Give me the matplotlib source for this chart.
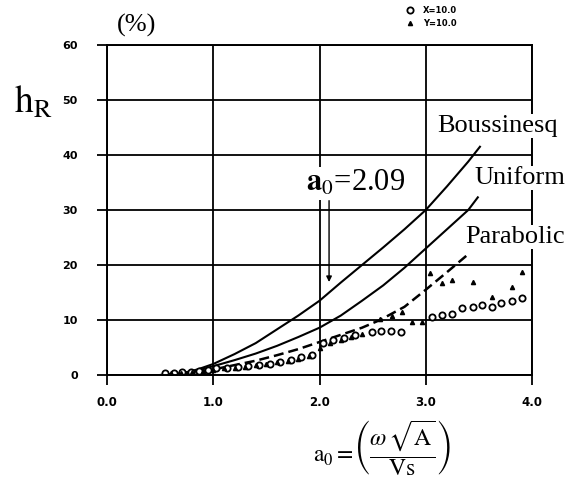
import matplotlib.pyplot as plt

plt.rcParams['font.family'] = ['Liberation Serif', 'DejaVu Serif']
plt.rcParams['mathtext.fontset'] = 'stix'

# theoretical curves
bous_a0 = [0.5, 0.7, 0.85, 1.0, 1.2, 1.4, 1.6, 1.8, 2.0, 2.2, 2.4, 2.6, 2.8, 3.0, 3.2, 3.4, 3.51]
bous_h = [0.0, 0.3, 1.0, 2.0, 3.8, 5.8, 8.3, 10.8, 13.5, 16.8, 20.0, 23.2, 26.5, 30.0, 34.3, 38.8, 41.5]

unif_a0 = [0.5, 0.7, 0.85, 1.0, 1.2, 1.4, 1.6, 1.8, 2.0, 2.2, 2.4, 2.6, 2.8, 3.0, 3.2, 3.4, 3.49]
unif_h = [0.0, 0.3, 0.8, 1.6, 2.7, 3.9, 5.3, 6.9, 8.6, 10.8, 13.5, 16.3, 19.5, 23.0, 26.5, 30.0, 32.3]

para_a0 = [0.6, 0.8, 1.0, 1.2, 1.4, 1.6, 1.8, 2.0, 2.2, 2.4, 2.57, 2.8, 3.0, 3.2, 3.39]
para_h = [0.0, 0.4, 1.0, 1.8, 2.6, 3.6, 4.7, 6.0, 7.3, 8.6, 10.0, 12.4, 15.5, 18.7, 21.8]

# measured points
x_a0 = [0.55, 0.63, 0.71, 0.79, 0.87, 0.95, 1.03, 1.13, 1.23, 1.33, 1.43, 1.53, 1.63, 1.73,
        1.83, 1.93, 2.03, 2.13, 2.23, 2.33, 2.49, 2.58, 2.67, 2.77, 3.06, 3.15, 3.25, 3.34,
        3.44, 3.53, 3.62, 3.71, 3.81, 3.91]
x_h = [0.3, 0.4, 0.5, 0.6, 0.7, 0.9, 1.2, 1.3, 1.5, 1.7, 1.9, 2.0, 2.3, 2.8,
       3.2, 3.6, 5.8, 6.4, 6.8, 7.3, 7.8, 8.0, 8.0, 7.8, 10.5, 10.9, 11.1, 12.2,
       12.4, 12.7, 12.4, 13.1, 13.5, 14.0]

y_a0 = [0.6, 0.7, 0.8, 0.9, 1.0, 1.1, 1.2, 1.3, 1.4, 1.5, 1.6, 1.7, 1.8, 1.9, 2.0, 2.1,
        2.2, 2.3, 2.4, 2.57, 2.68, 2.78, 2.87, 2.96, 3.04, 3.15, 3.25, 3.44, 3.62, 3.81, 3.91]
y_h = [0.3, 0.4, 0.5, 0.8, 1.0, 1.2, 1.3, 1.5, 1.8, 2.0, 2.3, 2.5, 3.0, 3.5, 5.0, 5.8,
       6.3, 7.0, 7.5, 10.2, 10.8, 11.4, 9.6, 9.6, 18.5, 16.7, 17.3, 16.9, 14.2, 16.0, 18.7]

xticks = [0.0, 1.0, 2.0, 3.0, 4.0]
yticks = [0, 10, 20, 30, 40, 50, 60]

fig = plt.figure(figsize=(5.82, 4.78), dpi=100)
ax = fig.add_axes([107/582, 1-375/478, 425/582, 330/478])

ax.plot(bous_a0, bous_h, color='black', lw=1.5)
ax.plot(unif_a0, unif_h, color='black', lw=1.5)
ax.plot(para_a0, para_h, color='black', lw=1.8, dashes=(4, 2))
ax.plot(x_a0, x_h, 'o', ms=4.5, mfc='white', mec='black', mew=1.3, label='X=10.0')
ax.plot(y_a0, y_h, '^', ms=3, color='black', label='Y=10.0')

ax.set_xlim(0, 4)
ax.set_ylim(0, 60)
ax.set_xticks(xticks)
ax.set_yticks(yticks)
ax.set_xticklabels(['%.1f' % v for v in xticks], family='DejaVu Sans', weight='bold', fontsize=8.5)
ax.set_yticklabels([str(v) for v in yticks], family='DejaVu Sans', weight='bold', fontsize=8)
ax.tick_params(direction='out', length=7, width=1.3)
ax.tick_params(axis='x', pad=8)
ax.tick_params(axis='y', pad=14)
ax.grid(True, color='black', lw=1.3)
for s in ax.spines.values():
    s.set_linewidth(1.4)

box = dict(facecolor='white', edgecolor='none', pad=1)
ax.text(3.68, 45.3, 'Boussinesq', fontsize=19, ha='center', va='center', bbox=box, zorder=5)
ax.text(3.89, 35.8, 'Uniform', fontsize=19, ha='center', va='center', bbox=box, zorder=5)
ax.text(3.84, 25.1, 'Parabolic', fontsize=19, ha='center', va='center', bbox=box, zorder=5)
ax.text(2.34, 34.8, r'$\mathbf{a}_{0}$=2.09', fontsize=22, ha='center', va='center', bbox=box, zorder=5)
ax.annotate('', xy=(2.09, 16.4), xytext=(2.09, 32.2),
            arrowprops=dict(arrowstyle='-|>', color='black', lw=1.0, mutation_scale=8))

ax.legend(loc='upper left', bbox_to_anchor=(0.68, 1.14), frameon=False,
          prop={'family': 'DejaVu Sans', 'weight': 'bold', 'size': 6},
          handlelength=1.5, handletextpad=0.8, labelspacing=0.4)

fig.text(137/582, 1-25/478, '(%)', fontsize=19, ha='center', va='center')
fig.text(33/582, 1-103/478, r'$\mathrm{h}_{\mathrm{R}}$', fontsize=27, ha='center', va='center')
fig.text(382/582, 1-448/478, r'$\mathrm{a}_0 = \!\left(\dfrac{\omega\,\sqrt{\mathrm{A}}}{\mathrm{Vs}}\right)$',
         fontsize=17, ha='center', va='center')

fig.savefig('out.png', dpi=100)
